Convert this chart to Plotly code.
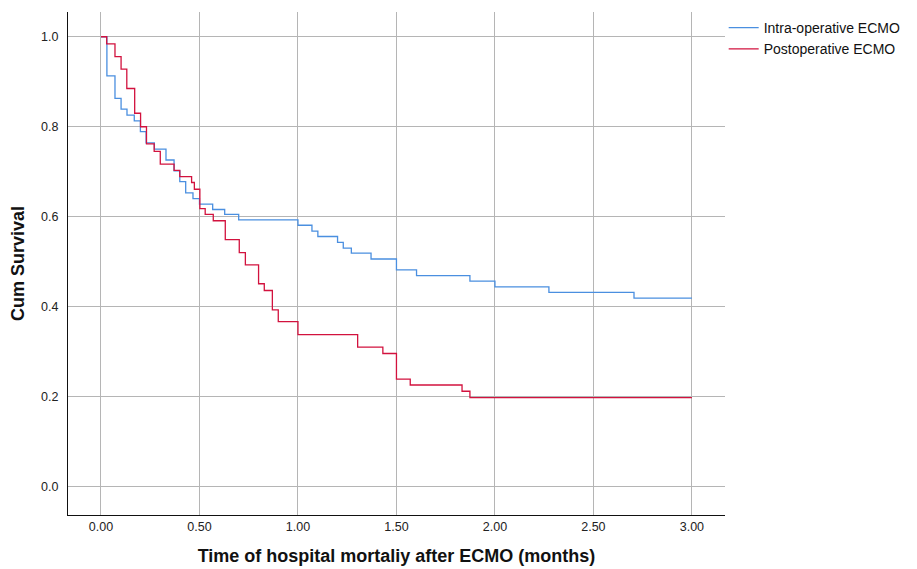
import plotly.graph_objects as go

# Kaplan-Meier step points (time in months, cumulative survival after the drop)
intra_times = [0.0, 0.030, 0.071, 0.102, 0.132, 0.169, 0.200, 0.229, 0.271, 0.330, 0.371,
               0.400, 0.430, 0.467, 0.500, 0.567, 0.628, 0.699, 1.000, 1.071, 1.101,
               1.201, 1.230, 1.271, 1.371, 1.500, 1.602, 1.873, 2.000, 2.274, 2.706, 3.000]
intra_surv = [1.000, 0.913, 0.863, 0.839, 0.826, 0.813, 0.789, 0.764, 0.750, 0.726, 0.702,
              0.678, 0.653, 0.640, 0.628, 0.616, 0.605, 0.593, 0.581, 0.568, 0.556,
              0.543, 0.530, 0.519, 0.506, 0.482, 0.469, 0.457, 0.444, 0.432, 0.419, 0.419]

post_times = [0.0, 0.029, 0.071, 0.102, 0.131, 0.171, 0.201, 0.231, 0.270, 0.301, 0.371,
              0.400, 0.460, 0.474, 0.502, 0.529, 0.570, 0.631, 0.702, 0.733, 0.800,
              0.829, 0.870, 0.900, 1.000, 1.303, 1.431, 1.500, 1.570, 1.833, 1.873, 3.000]
post_surv = [1.000, 0.984, 0.956, 0.928, 0.885, 0.830, 0.800, 0.762, 0.745, 0.717, 0.703,
             0.689, 0.676, 0.661, 0.618, 0.605, 0.591, 0.549, 0.520, 0.493, 0.451,
             0.436, 0.393, 0.367, 0.338, 0.310, 0.296, 0.239, 0.226, 0.212, 0.198, 0.198]

x_ticks = [0.0, 0.5, 1.0, 1.5, 2.0, 2.5, 3.0]
y_ticks = [0.0, 0.2, 0.4, 0.6, 0.8, 1.0]

series_names = ["Intra-operative ECMO", "Postoperative ECMO"]
series_colors = ["#4a8fe0", "#d2123e"]

FONT = "Liberation Sans, Arial, sans-serif"

fig = go.Figure()
fig.add_trace(go.Scatter(x=intra_times, y=intra_surv, mode="lines", name=series_names[0],
                         line=dict(color=series_colors[0], width=1.3, shape="hv")))
fig.add_trace(go.Scatter(x=post_times, y=post_surv, mode="lines", name=series_names[1],
                         line=dict(color=series_colors[1], width=1.3, shape="hv")))

# page body has an 8px default margin, so the figure is sized/offset to compensate
fig.update_layout(
    width=909, height=561,
    margin=dict(l=60, r=192, t=4, b=54, autoexpand=False),
    plot_bgcolor="white", paper_bgcolor="white",
    font=dict(family=FONT, color="#222222"),
    legend=dict(x=0.998, y=1.0, xanchor="left", yanchor="top",
                font=dict(size=14, color="#111111"), itemwidth=30,
                bgcolor="rgba(0,0,0,0)", tracegroupgap=0),
    showlegend=True,
)
fig.update_xaxes(
    range=[-0.1675, 3.168], tickvals=x_ticks, tickformat=".2f",
    showgrid=True, gridcolor="#b5b5b5", gridwidth=1, zeroline=False,
    showline=True, linecolor="#111111", linewidth=1, mirror=False,
    ticks="", automargin=False,
    tickfont=dict(size=12.5, color="#222222"),
    title=dict(text="<b>Time of hospital mortaliy after ECMO (months)</b>",
               font=dict(size=18, color="#111111"), standoff=16),
)
fig.update_yaxes(
    range=[-0.063, 1.055], tickvals=y_ticks, tickformat=".1f",
    showgrid=True, gridcolor="#b5b5b5", gridwidth=1, zeroline=False,
    showline=True, linecolor="#111111", linewidth=1, mirror=False,
    ticks="outside", ticklen=6, tickcolor="rgba(0,0,0,0)", automargin=False,
    tickfont=dict(size=12.5, color="#222222"),
    title=dict(text="<b>Cum Survival</b>", font=dict(size=18, color="#111111"), standoff=14),
)

fig.write_html("out.html")
